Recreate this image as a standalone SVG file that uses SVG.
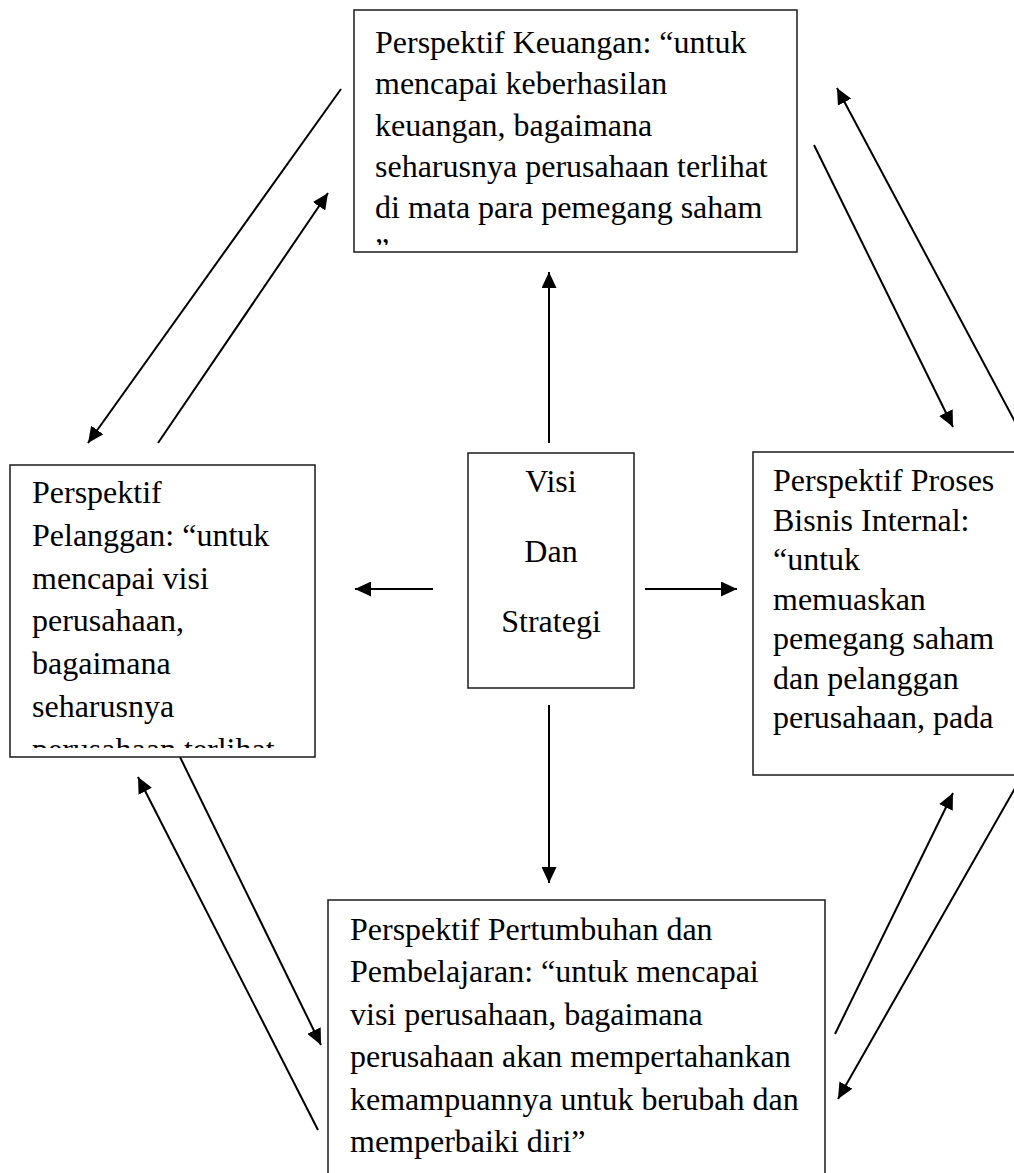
<svg xmlns="http://www.w3.org/2000/svg" width="1014" height="1173" viewBox="0 0 1014 1173">
  <style>
    .box { fill: #ffffff; stroke: #1a1a1a; stroke-width: 1.5; }
    .t { font-family: "Liberation Serif", "Times New Roman", serif; font-size: 32px; fill: #000000; }
    .c { text-anchor: middle; }
    .conn line { stroke: #000000; stroke-width: 2; }
  </style>
  <defs>
    <marker id="ah" viewBox="0 0 16 15" refX="16" refY="7.5" markerWidth="16" markerHeight="15" orient="auto" markerUnits="userSpaceOnUse">
      <path d="M0,0 L16,7.5 L0,15 z" fill="#000000"/>
    </marker>
    <clipPath id="clipTop"><rect x="354" y="10" width="443" height="235"/></clipPath>
    <clipPath id="clipLeft"><rect x="10" y="465" width="305" height="283"/></clipPath>
    <clipPath id="clipRight"><rect x="753" y="452" width="280" height="316"/></clipPath>
  </defs>

  <g id="connectors" class="conn">
    <line x1="341" y1="89" x2="88" y2="443" marker-end="url(#ah)"/>
    <line x1="158" y1="443" x2="328" y2="193" marker-end="url(#ah)"/>
    <line x1="549" y1="443" x2="549" y2="272" marker-end="url(#ah)"/>
    <line x1="814" y1="145" x2="953" y2="427" marker-end="url(#ah)"/>
    <line x1="1030" y1="450" x2="837" y2="88" marker-end="url(#ah)"/>
    <line x1="433" y1="589" x2="355" y2="589" marker-end="url(#ah)"/>
    <line x1="645" y1="589" x2="737" y2="589" marker-end="url(#ah)"/>
    <line x1="549" y1="705" x2="549" y2="883" marker-end="url(#ah)"/>
    <line x1="180" y1="757" x2="321" y2="1045" marker-end="url(#ah)"/>
    <line x1="318" y1="1130" x2="138" y2="777" marker-end="url(#ah)"/>
    <line x1="835" y1="1034" x2="953" y2="793" marker-end="url(#ah)"/>
    <line x1="1030" y1="762" x2="838" y2="1099" marker-end="url(#ah)"/>
  </g>

  <g id="node-keuangan">
    <rect class="box" x="354" y="10" width="443" height="242"/>
    <g clip-path="url(#clipTop)">
      <text class="t" x="375" y="53">Perspektif Keuangan: “untuk</text>
      <text class="t" x="375" y="94.3">mencapai keberhasilan</text>
      <text class="t" x="375" y="135.6">keuangan, bagaimana</text>
      <text class="t" x="375" y="176.9">seharusnya perusahaan terlihat</text>
      <text class="t" x="375" y="218.2">di mata para pemegang saham</text>
      <text class="t" x="375" y="259.5">”</text>
    </g>
  </g>

  <g id="node-pelanggan">
    <rect class="box" x="10" y="465" width="305" height="292"/>
    <g clip-path="url(#clipLeft)">
      <text class="t" x="32" y="503">Perspektif</text>
      <text class="t" x="32" y="545.8">Pelanggan: “untuk</text>
      <text class="t" x="32" y="588.6">mencapai visi</text>
      <text class="t" x="32" y="631.4">perusahaan,</text>
      <text class="t" x="32" y="674.2">bagaimana</text>
      <text class="t" x="32" y="717">seharusnya</text>
      <text class="t" x="32" y="759.8">perusahaan terlihat</text>
    </g>
  </g>

  <g id="node-visi">
    <rect class="box" x="468" y="453" width="166" height="235"/>
    <text class="t c" x="551" y="492">Visi</text>
    <text class="t c" x="551" y="562">Dan</text>
    <text class="t c" x="551" y="632">Strategi</text>
  </g>

  <g id="node-proses">
    <rect class="box" x="753" y="452" width="280" height="323"/>
    <g clip-path="url(#clipRight)">
      <text class="t" x="773" y="491">Perspektif Proses</text>
      <text class="t" x="773" y="530.5">Bisnis Internal:</text>
      <text class="t" x="773" y="570">“untuk</text>
      <text class="t" x="773" y="609.5">memuaskan</text>
      <text class="t" x="773" y="649">pemegang saham</text>
      <text class="t" x="773" y="688.5">dan pelanggan</text>
      <text class="t" x="773" y="728">perusahaan, pada</text>
    </g>
  </g>

  <g id="node-pertumbuhan">
    <rect class="box" x="328" y="900" width="497" height="300"/>
    <text class="t" x="350" y="940">Perspektif Pertumbuhan dan</text>
    <text class="t" x="350" y="982.4">Pembelajaran: “untuk mencapai</text>
    <text class="t" x="350" y="1024.8">visi perusahaan, bagaimana</text>
    <text class="t" x="350" y="1067.2">perusahaan akan mempertahankan</text>
    <text class="t" x="350" y="1109.6">kemampuannya untuk berubah dan</text>
    <text class="t" x="350" y="1152">memperbaiki diri”</text>
  </g>
</svg>
